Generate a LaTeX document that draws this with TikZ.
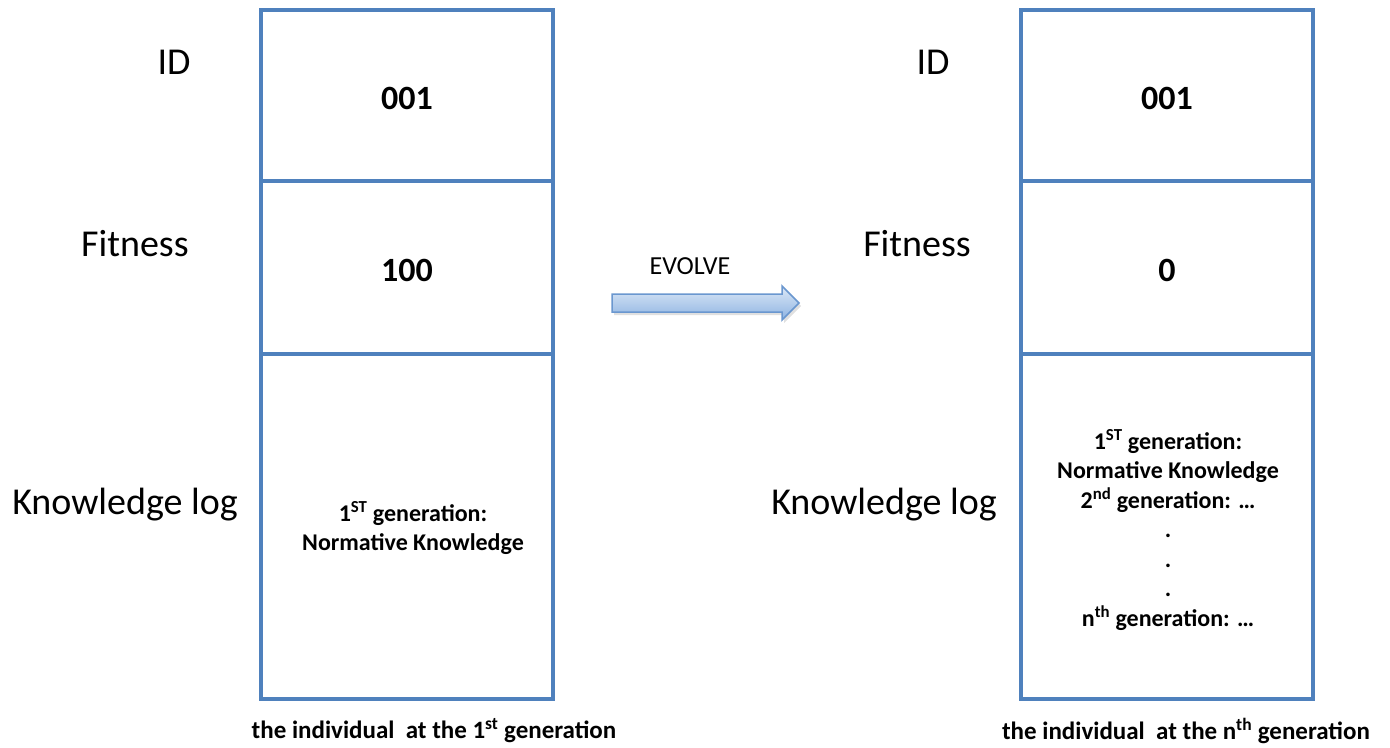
\documentclass[tikz,border=0pt]{standalone}
\usepackage{fontspec}
\setmainfont{Carlito}
\usetikzlibrary{shadings}
\definecolor{boxblue}{HTML}{4F81BD}
\definecolor{arrowtop}{HTML}{DCE8F6}
\definecolor{arrowbot}{HTML}{8DB3E2}
\definecolor{arrowline}{HTML}{6A97CF}
\tikzset{
  cell/.style={draw=boxblue, line width=4bp, minimum width=292bp, inner sep=0pt},
  fieldlabel/.style={font=\fontsize{38bp}{44bp}\selectfont},
  cellvalue/.style={font=\bfseries\fontsize{34bp}{38bp}\selectfont},
  logtext/.style={font=\bfseries\fontsize{24bp}{29.5bp}\selectfont, align=center},
  caption/.style={font=\bfseries\fontsize{25bp}{28bp}\selectfont},
}
\begin{document}
\begin{tikzpicture}[x=1bp, y=-1bp]
\useasboundingbox[fill=white] (0,0) rectangle (1390,747);

% individual at the first generation
\node[cell, minimum height=171bp] (lid)  at (407,95.5) {};
\node[cell, minimum height=173bp] (lfit) at (407,267.5) {};
\node[cell, minimum height=345bp] (llog) at (407,526.5) {};
\node[cellvalue] (lidv)  at (407,98) {001};
\node[cellvalue] (lfitv) at (407,270) {100};
\node[logtext] (llogv) at (413,528) {1\textsuperscript{ST} generation:\\Normative Knowledge};

\node[fieldlabel] (lidl)  at (174,62) {ID};
\node[fieldlabel] (lfitl) at (135,244) {Fitness};
\node[fieldlabel] (llogl) at (125,505) {Knowledge log};
\node[caption] (lcap) at (434,731) {the individual\ \ at the 1\textsuperscript{st} generation};

% individual at the n-th generation
\node[cell, minimum height=171bp] (rid)  at (1167,95.5) {};
\node[cell, minimum height=173bp] (rfit) at (1167,267.5) {};
\node[cell, minimum height=345bp] (rlog) at (1167,526.5) {};
\node[cellvalue] (ridv)  at (1167,98) {001};
\node[cellvalue] (rfitv) at (1167,270) {0};
\node[logtext] (rlogv) at (1168,530) {1\textsuperscript{ST} generation:\\Normative Knowledge\\2\textsuperscript{nd} generation: …\\.\\.\\.\\n\textsuperscript{th} generation: …};

\node[fieldlabel] (ridl)  at (933,62) {ID};
\node[fieldlabel] (rfitl) at (917,244) {Fitness};
\node[fieldlabel] (rlogl) at (884,505) {Knowledge log};
\node[caption] (rcap) at (1186,731) {the individual\ \ at the n\textsuperscript{th} generation};

% evolve arrow
\node[font=\fontsize{26bp}{30bp}\selectfont] (evo) at (690,266) {EVOLVE};
\fill[black, opacity=0.12] (614,297) -- (784,297) -- (784,289) -- (801,306) -- (784,323) -- (784,315) -- (614,315) -- cycle;
\draw[arrowline, line width=1.5bp, top color=arrowtop, bottom color=arrowbot]
  (612,294) -- (782,294) -- (782,286) -- (799,303) -- (782,320) -- (782,312) -- (612,312) -- cycle;
\end{tikzpicture}
\end{document}
